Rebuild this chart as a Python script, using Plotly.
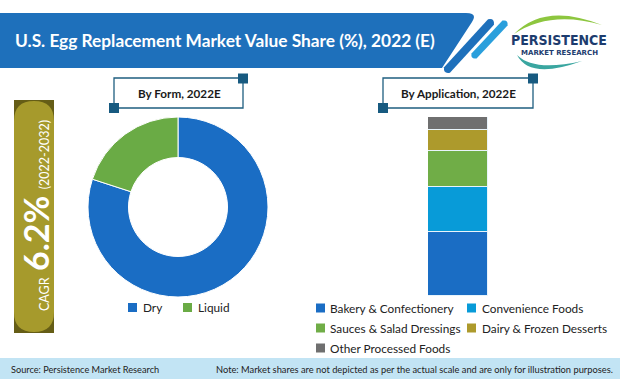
import math
import plotly.graph_objects as go

W, H = 620, 379

# ---------------- data ----------------
form_labels = ["Dry", "Liquid"]
form_values = [80, 20]
form_colors = ["#1a6dc4", "#6aab45"]

app_category = ["2022E"]
app_labels = ["Bakery & Confectionery", "Convenience Foods", "Sauces & Salad Dressings",
              "Dairy & Frozen Desserts", "Other Processed Foods"]
app_values = [36, 25, 20, 12, 7]
app_colors = ["#1a6dc4", "#089bd8", "#70ad47", "#ad9a2c", "#6f6f6f"]

title_text = "U.S. Egg Replacement Market Value Share (%), 2022 (E)"
form_title = "By Form, 2022E"
app_title = "By Application, 2022E"
cagr_value = "6.2%"
cagr_period = "(2022-2032)"
source_text = "Source: Persistence Market Research"
note_text = "Note: Market shares are not depicted as per the actual scale and are only for illustration purposes."

FONT = "Lato, 'Open Sans', sans-serif"

# legend layout (pixel positions of symbol centres)
form_legend_pos = [(132.5, 307.5), (187.5, 307.5)]
app_legend_pos = [(320.5, 308), (471.5, 308), (320.5, 328), (471.5, 328), (320.5, 348)]


def X(x):
    return x / W


def Y(y):
    return 1 - y / H


def path(cmds):
    out = []
    for c in cmds:
        if isinstance(c, str):
            out.append(c)
        else:
            out.append(f"{X(c[0]):.5f},{Y(c[1]):.5f}")
    return " ".join(out)


def seg(p0, p1, w):
    dx, dy = p1[0] - p0[0], p1[1] - p0[1]
    L = math.hypot(dx, dy)
    ux, uy = dx / L, dy / L
    nx, ny = -uy * w / 2, ux * w / 2
    a = (p0[0] + nx, p0[1] + ny)
    b = (p1[0] + nx, p1[1] + ny)
    c = (p1[0] - nx, p1[1] - ny)
    d = (p0[0] - nx, p0[1] - ny)
    e1 = (p1[0] + ux * w * 0.7, p1[1] + uy * w * 0.7)
    e0 = (p0[0] - ux * w * 0.7, p0[1] - uy * w * 0.7)
    return path(["M", a, "L", b, "Q", e1, c, "L", d, "Q", e0, a, "Z"])


fig = go.Figure()

# donut
fig.add_trace(go.Pie(
    labels=form_labels, values=form_values,
    marker=dict(colors=form_colors, line=dict(color="white", width=1)),
    hole=0.55, sort=False, direction="clockwise", rotation=0,
    textinfo="none", domain=dict(x=[X(88), X(268)], y=[Y(297), Y(117)]),
    showlegend=False,
))

# stacked bar
for lab, val, col in zip(app_labels, app_values, app_colors):
    fig.add_trace(go.Bar(
        x=app_category, y=[val], name=lab, width=1,
        marker=dict(color=col, line=dict(color="#e8f4fb", width=1)),
        showlegend=False,
    ))

P = dict(type="path", xref="paper", yref="paper", line=dict(width=0))
R = dict(type="rect", xref="paper", yref="paper", line=dict(width=0))
shapes = []
# title banner
shapes.append(dict(P, fillcolor="#1e70bb",
                   path=path(["M", (0, 13), "L", (466, 13), "Q", (478, 13), (472, 22),
                              "L", (442, 68), "L", (0, 68), "Z"])))
shapes.append(dict(P, fillcolor="#1e70bb", path=seg((491, 22), (447, 70), 8)))
shapes.append(dict(P, fillcolor="#2a9fdc", path=seg((505, 23), (474, 56), 7)))
# logo swooshes
shapes.append(dict(P, fillcolor="#8dc63f",
                   path=path(["M", (514, 34), "Q", (545, 2), (602, 25),
                              "Q", (550, 10), (514, 34), "Z"])))
shapes.append(dict(P, fillcolor="#3aa6a0",
                   path=path(["M", (517, 55), "Q", (530, 80), (582, 61),
                              "Q", (534, 72), (517, 55), "Z"])))

# CAGR box
shapes.append(dict(R, fillcolor="#655d16", x0=X(14), x1=X(54), y0=Y(333), y1=Y(100)))
shapes.append(dict(P, fillcolor="#a69a2c",
                   path=path(["M", (14, 121), "Q", (14, 101), (34, 101), "Q", (54, 101), (54, 121),
                              "L", (54, 312), "Q", (54, 332), (34, 332), "Q", (14, 332), (14, 312), "Z"])))

# subtitle boxes
for (x0, x1) in [(114, 243), (383, 533)]:
    shapes.append(dict(type="rect", xref="paper", yref="paper",
                       line=dict(color="#1f5f80", width=1.3), fillcolor="white",
                       x0=X(x0), x1=X(x1), y0=Y(108), y1=Y(78)))
    for (cx, cy) in [(x1, 78.5), (x0, 108)]:
        shapes.append(dict(R, fillcolor="#175a80",
                           x0=X(cx - 5), x1=X(cx + 5), y0=Y(cy + 5), y1=Y(cy - 5)))

# footer band
shapes.append(dict(R, fillcolor="#c2e4f4", x0=0, x1=1, y0=0, y1=Y(358)))

A = dict(xref="paper", yref="paper", showarrow=False, yanchor="middle")
annotations = [
    dict(A, text=f"<b>{title_text}</b>", x=X(13), y=Y(40), xanchor="left",
         font=dict(family=FONT, size=17.3, color="white")),
    dict(A, text="<b>PERSISTENCE</b>", x=X(559), y=Y(40), xanchor="center",
         font=dict(family="'DejaVu Sans Condensed', 'Liberation Sans Narrow', Roboto, sans-serif",
                   size=14, color="#1d3c6e")),
    dict(A, text="<b>MARKET RESEARCH</b>", x=X(559), y=Y(53), xanchor="center",
         font=dict(family="'DejaVu Sans', sans-serif", size=7, color="#1d3c6e")),
    dict(A, text=f"<b>{form_title}</b>", x=X(179), y=Y(93), xanchor="center",
         font=dict(family=FONT, size=11.7, color="#1a1a1a")),
    dict(A, text=f"<b>{app_title}</b>", x=X(458.5), y=Y(93), xanchor="center",
         font=dict(family=FONT, size=11.7, color="#1a1a1a")),
    dict(A, text=("CAGR&nbsp;&nbsp;<b><span style='font-size:34px'>" + cagr_value + "</span></b>&nbsp;&nbsp;"
                  "<span style='font-size:12.5px'>" + cagr_period + "</span>"),
         x=X(35), y=Y(216), xanchor="center", textangle=-90,
         font=dict(family=FONT, size=12.5, color="white")),
    dict(A, text=source_text, x=X(9), y=Y(369), xanchor="left",
         font=dict(family=FONT, size=9.2, color="#222222")),
    dict(A, text=note_text, x=X(615), y=Y(369), xanchor="right",
         font=dict(family=FONT, size=9.3, color="#222222")),
]

# legends (drawn from the same label / colour lists)
for labels, colors, positions in [(form_labels, form_colors, form_legend_pos),
                                  (app_labels, app_colors, app_legend_pos)]:
    for lab, col, (cx, cy) in zip(labels, colors, positions):
        shapes.append(dict(R, fillcolor=col, x0=X(cx - 4.5), x1=X(cx + 4.5),
                           y0=Y(cy + 4.5), y1=Y(cy - 4.5)))
        annotations.append(dict(A, text=lab, x=X(cx + 8), y=Y(cy), xanchor="left",
                                font=dict(family=FONT, size=11.8, color="#222222")))

fig.update_layout(
    width=W, height=H, margin=dict(l=0, r=0, t=0, b=0),
    paper_bgcolor="white", plot_bgcolor="white",
    barmode="stack", bargap=0,
    xaxis=dict(domain=[X(428), X(488)], range=[-0.5, 0.5], visible=False, fixedrange=True),
    yaxis=dict(domain=[Y(296), Y(117)], range=[0, 100], visible=False, fixedrange=True),
    shapes=shapes, annotations=annotations,
    font=dict(family=FONT, size=13, color="#222222"),
    showlegend=False,
)

fig.write_html("out.html", config={"displayModeBar": False},
               post_script="document.body.style.margin='0px';document.body.style.padding='0px';")
